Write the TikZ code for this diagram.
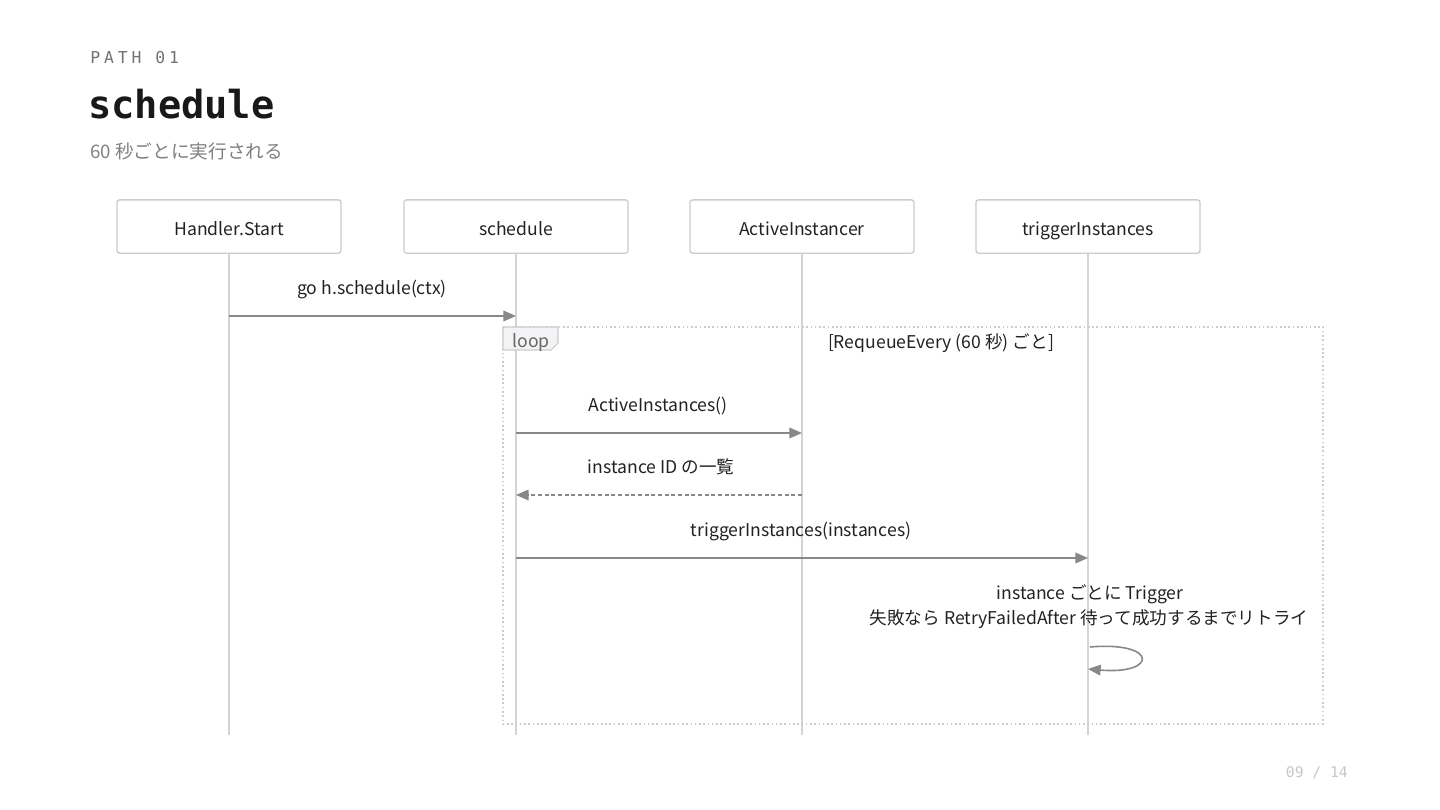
\documentclass[tikz,border=0pt]{standalone}
\usepackage{fontspec}
\setmainfont{Noto Sans CJK JP}
\newfontfamily\monofont{DejaVu Sans Mono}
\newfontfamily\monospaced[LetterSpace=24]{DejaVu Sans Mono}
\usetikzlibrary{arrows.meta,calc}
\definecolor{txt}{HTML}{222222}
\definecolor{boxline}{HTML}{CCCCCC}
\definecolor{life}{HTML}{D4D4D4}
\definecolor{msg}{HTML}{888888}
\definecolor{tabfill}{HTML}{F3F3F6}
\tikzset{
  actor/.style={draw=boxline, line width=1pt, rounded corners=2pt, fill=white,
    minimum width=168pt, minimum height=40pt, inner sep=0pt,
    text height=14pt, text depth=0pt,
    font=\fontsize{13.2}{16}\selectfont, text=txt},
  lifeline/.style={draw=life, line width=1.6pt},
  call/.style={draw=msg, line width=1.2pt, -{Triangle[length=9.5pt,width=8pt]}},
  reply/.style={call, dashed, dash pattern=on 3pt off 2pt},
  lbl/.style={font=\fontsize{13.2}{16}\selectfont, text=txt, inner sep=0pt,
    text height=11pt, text depth=0pt},
  loopframe/.style={draw=boxline, line width=1.2pt, dotted},
}
\begin{document}
\begin{tikzpicture}[x=0.75pt,y=-0.75pt]
\useasboundingbox[fill=white] (0,0) rectangle (1440,810);

% header
\node[anchor=base west, inner sep=0pt, text=black!55, font=\monospaced\fontsize{12.3}{14}\selectfont] (path) at (90,63) {PATH 01};
\node[anchor=base west, inner sep=0pt, text=black!90, font=\monofont\bfseries\fontsize{29}{32}\selectfont] (title) at (88,118) {schedule};
\node[anchor=base west, inner sep=0pt, text=black!50, font=\fontsize{14}{16}\selectfont] (sub) at (90,158) {60 秒ごとに実行される};
\node[anchor=base east, inner sep=0pt, text=black!22, font=\monofont\fontsize{11}{13}\selectfont] (page) at (1348,777) {09 / 14};

% actors
\node[actor] (h) at (229,226.5) {Handler.Start};
\node[actor] (s) at (516,226.5) {schedule};
\node[actor] (a) at (802,226.5) {ActiveInstancer};
\node[actor] (t) at (1088,226.5) {triggerInstances};

\coordinate (hend) at (229,735);
\coordinate (send) at (516,735);
\coordinate (aend) at (802,735);
\coordinate (tend) at (1088,735);
\draw[lifeline] (h.south) -- (hend);
\draw[lifeline] (s.south) -- (send);
\draw[lifeline] (a.south) -- (aend);
\draw[lifeline] (t.south) -- (tend);

% loop frame
\coordinate (lf1) at (503,327);
\coordinate (lf2) at (1323,724);
\draw[loopframe] (lf1) rectangle (lf2);
\draw[draw=boxline, line width=0.8pt, fill=tabfill] (503,327) -- (558,327) -- (558,343) -- (551,350) -- (503,350) -- cycle;
\node[lbl, text=black!60, anchor=center] (looplbl) at (531,340) {loop};
\node[lbl, anchor=center] (guard) at (941,341) {[RequeueEvery (60 秒) ごと]};

% messages
\coordinate (h1) at (229,316); \coordinate (s1) at (516,316);
\draw[call] (h1) -- (s1);
\node[lbl] (m1) at (372,287) {go h.schedule(ctx)};

\coordinate (s2) at (516,433); \coordinate (a2) at (802,433);
\draw[call] (s2) -- (a2);
\node[lbl] (m2) at (658,404) {ActiveInstances()};

\coordinate (a3) at (802,495); \coordinate (s3) at (516,495);
\draw[reply] (a3) -- (s3);
\node[lbl] (m3) at (661,466) {instance ID の一覧};

\coordinate (s4) at (516,558); \coordinate (t4) at (1088,558);
\draw[call] (s4) -- (t4);
\node[lbl] (m4) at (801,529) {triggerInstances(instances)};

\node[lbl] (m5a) at (1090,592) {instance ごとに Trigger};
\node[lbl] (m5b) at (1089,617) {失敗なら RetryFailedAfter 待って成功するまでリトライ};
\coordinate (t5a) at (1090,647); \coordinate (t5b) at (1088,669);
\draw[call] (t5a) .. controls (1158,641) and (1158,675) .. (t5b);
\end{tikzpicture}
\end{document}
